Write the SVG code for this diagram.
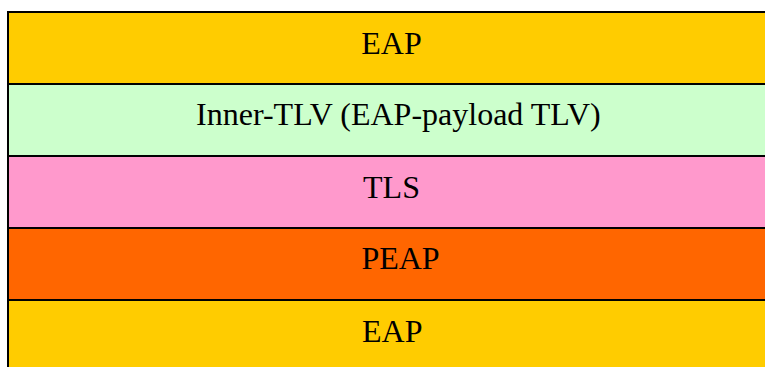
<svg xmlns="http://www.w3.org/2000/svg" width="765" height="367" viewBox="0 0 765 367">
<style>
.layer{stroke:#000;stroke-width:2}
.t{font-family:"Liberation Serif","Times New Roman",serif;font-size:32px;fill:#000;text-anchor:middle}
</style>
<rect width="765" height="367" fill="#fff"/>
<g id="eap-top"><rect class="layer" x="8" y="12" width="800" height="72" fill="#FFCC00"/><text class="t" x="391.5" y="53.5">EAP</text></g>
<g id="inner-tlv"><rect class="layer" x="8" y="84" width="800" height="72" fill="#CCFFCC"/><text class="t" x="398.4" y="124.5">Inner-TLV (EAP-payload TLV)</text></g>
<g id="tls"><rect class="layer" x="8" y="156" width="800" height="72" fill="#FF99CC"/><text class="t" x="391.5" y="197.5">TLS</text></g>
<g id="peap"><rect class="layer" x="8" y="228" width="800" height="72" fill="#FF6600"/><text class="t" x="400.5" y="268.5">PEAP</text></g>
<g id="eap-bottom"><rect class="layer" x="8" y="300" width="800" height="72" fill="#FFCC00"/><text class="t" x="392.2" y="342.3">EAP</text></g>
<g id="connectors"/>
</svg>
